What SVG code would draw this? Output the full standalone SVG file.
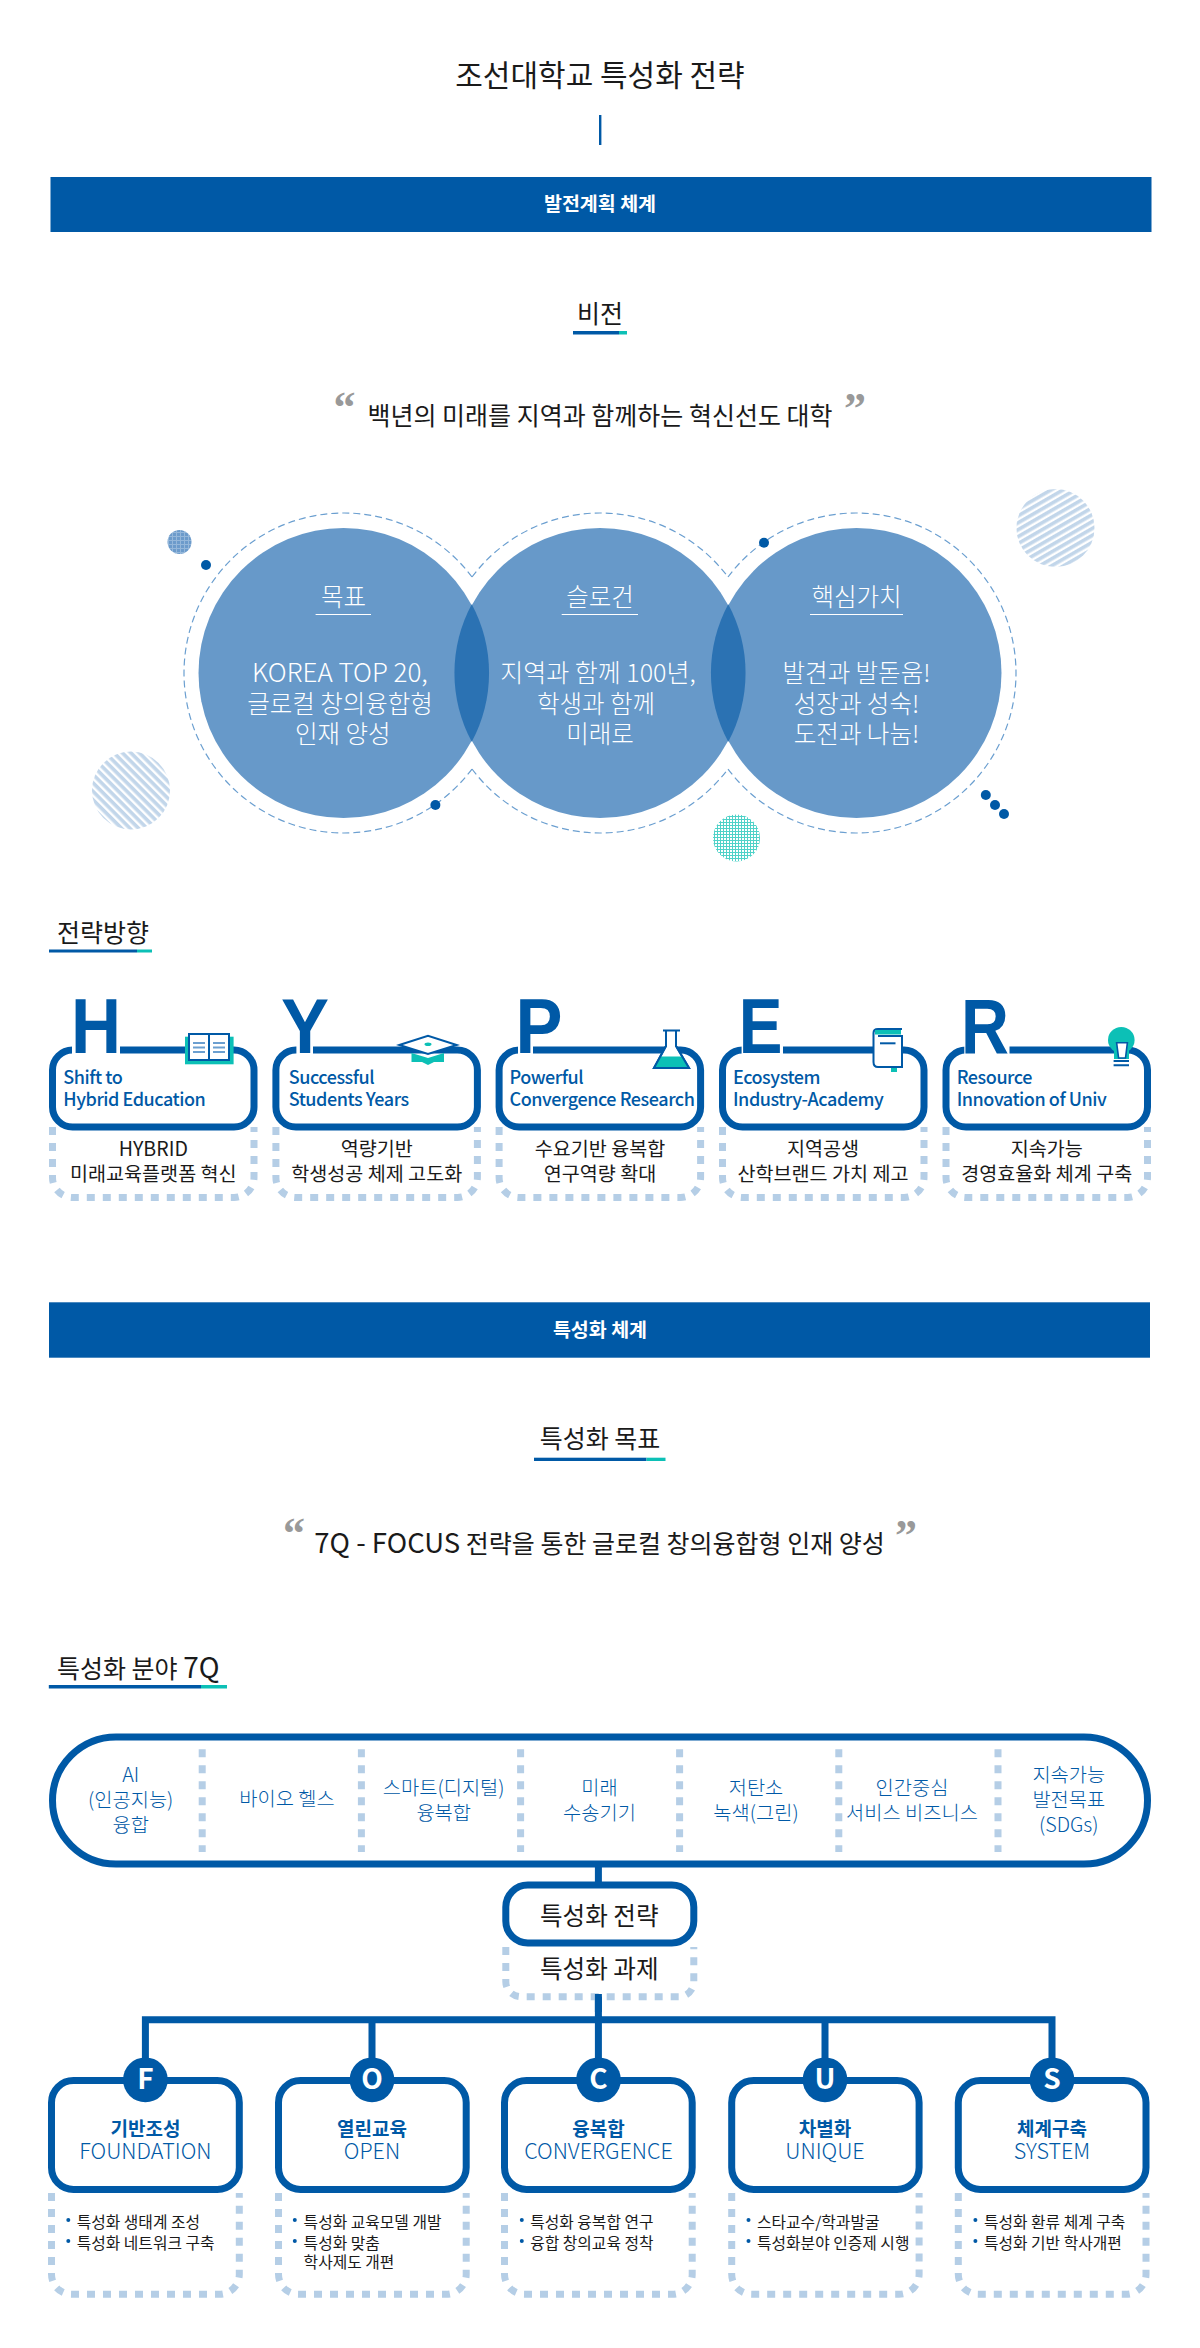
<svg xmlns="http://www.w3.org/2000/svg" width="1200" height="2348" viewBox="0 0 1200 2348">
<style>
text{font-family:"Noto Sans CJK KR","Noto Sans",sans-serif;fill:#1a1a1a}
.c{text-anchor:middle}
.band{fill:#0059a6}
.bandt{font-size:19.5px;font-weight:700;fill:#fff;text-anchor:middle}
.h{font-size:25px}
.quote{font-family:"Liberation Serif",serif;font-weight:700;font-size:44px;fill:#999;text-anchor:middle}
.ub{fill:#0059a6}.ut{fill:#0cc0b6}
.big{fill:#6799c9}.lens{fill:#2b72b3}
.dash{fill:none;stroke:#6b9fd0;stroke-width:1.2;stroke-dasharray:7 4}
.dot{fill:#0059a6}
.ct{fill:#fff;font-size:24.5px;text-anchor:middle;font-weight:300}
.cl{stroke:#fff;stroke-width:1}
.solid{fill:#fff;stroke:#0059a6;stroke-width:7}
.dots{fill:none;stroke:#b5cee6;stroke-width:7;stroke-dasharray:8 8}
.let{font-family:"Liberation Sans",sans-serif;font-weight:700;font-size:78px;fill:#0059a6;text-anchor:middle}
.en{font-size:18px;letter-spacing:-.45px;fill:#0059a6;font-weight:500}
.sub{font-size:19.6px;text-anchor:middle}
.ico{fill:#fff;stroke:#0059a6;stroke-width:2}
.teal{fill:#0cc0b6}
.pg{stroke:#6b9fd0;stroke-width:2}
.f7{font-size:19.8px;fill:#0059a6;text-anchor:middle;font-weight:300}
.mid{font-size:24.6px;text-anchor:middle}
.cap{font-size:28px;font-weight:700;fill:#fff;text-anchor:middle}
.kt{font-size:19px;font-weight:700;fill:#0059a6;text-anchor:middle}
.ke{font-size:21.5px;fill:#0059a6;text-anchor:middle;font-weight:300}
.li{font-size:15.8px}
.conn{stroke:#0059a6;stroke-width:7;fill:none}
</style>
<defs>
<pattern id="st1" width="6" height="6" patternUnits="userSpaceOnUse" patternTransform="rotate(45)"><rect width="6" height="6" fill="#fff"/><rect width="6" height="3.6" fill="#c2d6ea"/></pattern>
<pattern id="st2" width="6" height="6" patternUnits="userSpaceOnUse" patternTransform="rotate(-30)"><rect width="6" height="6" fill="#fff"/><rect width="6" height="3.6" fill="#c2d6ea"/></pattern>
<pattern id="gr1" width="4" height="4" patternUnits="userSpaceOnUse"><rect width="4" height="4" fill="#6c9bcb"/><rect width="1" height="4" fill="#94b7da"/><rect width="4" height="1" fill="#94b7da"/></pattern>
<pattern id="gr2" width="3" height="3" patternUnits="userSpaceOnUse"><rect width="3" height="3" fill="#fff"/><rect width="1" height="3" fill="#4fd2c8"/><rect width="3" height="1" fill="#4fd2c8"/></pattern>
</defs>
<rect width="1200" height="2348" fill="#fff"/>

<g id="title">
<text class="c" x="600" y="86" font-size="30">조선대학교 특성화 전략</text>
<rect x="599" y="115" width="2.4" height="30" fill="#0059a6"/>
</g>
<g id="band-1"><rect class="band" x="50.5" y="177" width="1101" height="55"/><text class="bandt" x="600" y="211">발전계획 체계</text></g>

<g id="vision">
<text class="h c" x="600" y="323">비전</text>
<rect class="ub" x="573" y="331" width="46" height="3.5"/><rect class="ut" x="619" y="331" width="8" height="3.5"/>
<text class="quote" x="344.5" y="422">“</text><text class="quote" x="855" y="423">”</text>
<text class="c" x="600" y="425" font-size="25">백년의 미래를 지역과 함께하는 혁신선도 대학</text>
</g>

<g id="venn-decor">
<circle cx="179.5" cy="542" r="12" fill="url(#gr1)"/>
<circle cx="131" cy="790.5" r="39" fill="url(#st1)"/>
<circle cx="1055.5" cy="528" r="39" fill="url(#st2)"/>
<circle cx="736.5" cy="838" r="23.5" fill="url(#gr2)"/>
<path class="dash" d="M472,577A160,160 0 1 0 472,769"/>
<path class="dash" d="M472,577A160,160 0 0 1 728,577"/>
<path class="dash" d="M472,769A160,160 0 0 0 728,769"/>
<path class="dash" d="M728,577A160,160 0 1 1 728,769"/>
<circle class="dot" cx="206" cy="565" r="5"/><circle class="dot" cx="435.4" cy="805" r="5"/><circle class="dot" cx="764" cy="542.7" r="5"/>
<circle class="dot" cx="985.8" cy="795" r="5"/><circle class="dot" cx="995" cy="805" r="5"/><circle class="dot" cx="1004" cy="814" r="5"/>
</g>
<g id="circle-goal">
<circle class="big" cx="343.5" cy="673" r="145"/>
<text class="ct" x="343.5" y="606">목표</text><line class="cl" x1="315.6" y1="614.5" x2="371" y2="614.5"/>
<text class="ct" x="340" y="681.5" font-size="26" style="font-size:26px">KOREA TOP 20,</text><text class="ct" x="340" y="712.5">글로컬 창의융합형</text><text class="ct" x="342.7" y="743">인재 양성</text>
</g>
<g id="circle-slogan">
<circle class="big" cx="600" cy="673" r="145"/>
<text class="ct" x="600" y="606">슬로건</text><line class="cl" x1="561.7" y1="614.5" x2="638" y2="614.5"/>
<text class="ct" x="598" y="681.5" style="font-size:25px">지역과 함께 100년,</text><text class="ct" x="596" y="712.5">학생과 함께</text><text class="ct" x="600" y="743">미래로</text>
</g>
<g id="circle-value">
<circle class="big" cx="856.5" cy="673" r="145"/>
<text class="ct" x="856.5" y="606">핵심가치</text><line class="cl" x1="810" y1="614.5" x2="903" y2="614.5"/>
<text class="ct" x="856.5" y="681.5">발견과 발돋움!</text><text class="ct" x="856.5" y="712.5">성장과 성숙!</text><text class="ct" x="856.5" y="743">도전과 나눔!</text>
</g>
<path class="lens" d="M471.75,604.3A145,145 0 0 1 471.75,741.7A145,145 0 0 1 471.75,604.3Z"/>
<path class="lens" d="M728.25,604.3A145,145 0 0 1 728.25,741.7A145,145 0 0 1 728.25,604.3Z"/>

<g id="strategy-head">
<text class="h" x="57" y="942">전략방향</text>
<rect class="ub" x="49" y="949.5" width="88" height="3"/><rect class="ut" x="137" y="949.5" width="15" height="3"/>
</g>

<g id="card-H">
<path class="dots" d="M52.5,1127V1177.5A20,20 0 0 0 72.5,1197.5H234A20,20 0 0 0 254,1177.5V1127"/>
<rect class="solid" x="52.5" y="1050" width="201.5" height="77" rx="20"/>
<rect x="72" y="1045" width="48" height="10" fill="#fff"/>
<text class="let" x="96" y="1053" textLength="50" lengthAdjust="spacingAndGlyphs">H</text>
<rect class="teal" x="185" y="1036.7" width="48.6" height="27.6"/>
<rect class="ico" x="189" y="1034" width="40" height="26"/><line x1="209" y1="1034" x2="209" y2="1060" stroke="#0059a6" stroke-width="2"/>
<path class="pg" d="M193,1043H205M193,1047.5H205M193,1052H205M213,1043H225M213,1047.5H225M213,1052H225"/>
<text class="en" x="63.3" y="1084">Shift to</text><text class="en" x="63.3" y="1106">Hybrid Education</text>
<text class="sub" x="153.3" y="1155.7">HYBRID</text><text class="sub" x="153.3" y="1180.7">미래교육플랫폼 혁신</text>
</g>
<g id="card-Y">
<path class="dots" d="M275.9,1127V1177.5A20,20 0 0 0 295.9,1197.5H457.4A20,20 0 0 0 477.4,1177.5V1127"/>
<rect class="solid" x="275.9" y="1050" width="201.5" height="77" rx="20"/>
<rect x="296.4" y="1045" width="16.6" height="10" fill="#fff"/>
<text class="let" x="305" y="1053" textLength="48" lengthAdjust="spacingAndGlyphs">Y</text>
<path class="teal" d="M411.5,1053L428,1058L444,1053V1062H434L428,1065L422,1062H411.5Z"/>
<path class="ico" d="M399.3,1045L428,1035.7L456.7,1045L428,1054Z"/>
<ellipse class="teal" cx="428" cy="1044.3" rx="3.5" ry="1.8"/>
<text class="en" x="288.7" y="1084">Successful</text><text class="en" x="288.7" y="1106">Students Years</text>
<text class="sub" x="376.7" y="1155.7">역량기반</text><text class="sub" x="376.7" y="1180.7">학생성공 체제 고도화</text>
</g>
<g id="card-P">
<path class="dots" d="M499.1,1127V1177.5A20,20 0 0 0 519.1,1197.5H680.6A20,20 0 0 0 700.6,1177.5V1127"/>
<rect class="solid" x="499.1" y="1050" width="201.5" height="77" rx="20"/>
<rect x="518" y="1045" width="15" height="10" fill="#fff"/>
<text class="let" x="539" y="1053" textLength="47" lengthAdjust="spacingAndGlyphs">P</text>
<path class="ico" d="M666,1031V1046L654,1068H689L676,1046V1031"/>
<path class="teal" d="M660.5,1056.5H682.5L689,1068H654Z"/><path fill="none" stroke="#0059a6" stroke-width="2" d="M663,1030.5H680M666,1031V1046L654,1068H689L676,1046V1031"/>
<text class="en" x="509.5" y="1084">Powerful</text><text class="en" x="509.5" y="1106">Convergence Research</text>
<text class="sub" x="600" y="1155.7">수요기반 융복합</text><text class="sub" x="600" y="1180.7">연구역량 확대</text>
</g>
<g id="card-E">
<path class="dots" d="M722.5,1127V1177.5A20,20 0 0 0 742.5,1197.5H904A20,20 0 0 0 924,1177.5V1127"/>
<rect class="solid" x="722.5" y="1050" width="201.5" height="77" rx="20"/>
<rect x="741.6" y="1045" width="41.4" height="10" fill="#fff"/>
<text class="let" x="760.5" y="1053" textLength="43.7" lengthAdjust="spacingAndGlyphs">E</text>
<rect class="teal" x="891" y="1060" width="6" height="12"/>
<path class="ico" d="M902,1029H878Q873.5,1029 873.5,1033V1062Q873.5,1067 878,1067H902V1036H878"/>
<rect class="teal" x="875" y="1030" width="26" height="4.5"/>
<line x1="880" y1="1043.3" x2="895.5" y2="1043.3" stroke="#0059a6" stroke-width="2"/>
<text class="en" x="733" y="1084">Ecosystem</text><text class="en" x="733" y="1106">Industry-Academy</text>
<text class="sub" x="823" y="1155.7">지역공생</text><text class="sub" x="823" y="1180.7">산학브랜드 가치 제고</text>
</g>
<g id="card-R">
<path class="dots" d="M946,1127V1177.5A20,20 0 0 0 966,1197.5H1127.5A20,20 0 0 0 1147.5,1177.5V1127"/>
<rect class="solid" x="946" y="1050" width="201.5" height="77" rx="20"/>
<rect x="964.3" y="1045" width="45.2" height="10" fill="#fff"/>
<text class="let" x="985" y="1053" textLength="48" lengthAdjust="spacingAndGlyphs">R</text>
<ellipse class="teal" cx="1121.3" cy="1040" rx="13.3" ry="13"/>
<rect x="1114" y="1050" width="15" height="9" fill="#0cc0b6"/>
<path fill="#fff" stroke="#0059a6" stroke-width="1.6" d="M1116.6,1042.7H1127.4L1125.5,1058H1118.6Z"/>
<path stroke="#0059a6" stroke-width="2" d="M1113.6,1061H1129M1113.6,1065.3H1129"/>
<text class="en" x="956.7" y="1084">Resource</text><text class="en" x="956.7" y="1106">Innovation of Univ</text>
<text class="sub" x="1046.7" y="1155.7">지속가능</text><text class="sub" x="1046.7" y="1180.7">경영효율화 체계 구축</text>
</g>

<g id="band-2"><rect class="band" x="49" y="1302.3" width="1101" height="55.4"/><text class="bandt" x="600" y="1337">특성화 체계</text></g>

<g id="goal">
<text class="h c" x="600" y="1448">특성화 목표</text>
<rect class="ub" x="534" y="1457.7" width="112.5" height="3.3"/><rect class="ut" x="646.5" y="1457.7" width="19" height="3.3"/>
<text class="quote" x="294" y="1548">“</text><text class="quote" x="906" y="1549.5">”</text>
<text class="c" x="599.6" y="1552.7" font-size="25"><tspan font-size="27.5">7Q - FOCUS</tspan> 전략을 통한 글로컬 창의융합형 인재 양성</text>
</g>
<g id="field-head">
<text class="h" x="57" y="1678">특성화 분야 <tspan font-size="28">7Q</tspan></text>
<rect class="ub" x="48.8" y="1685" width="152.2" height="3.5"/><rect class="ut" x="201" y="1685" width="26" height="3.5"/>
</g>

<g id="connectors">
<path class="conn" d="M598.4,1866V1884M598.4,1996.7V2060M145.4,2060V2019.7H1052V2060M372,2019.7V2060M825,2019.7V2060"/>
</g>

<g id="fields">
<rect class="solid" x="52.5" y="1737" width="1095" height="127" rx="63.5"/>
<path class="dots" d="M202.2,1749.3V1852M361.4,1749.3V1852M520.6,1749.3V1852M679.6,1749.3V1852M838.8,1749.3V1852M998,1749.3V1852"/>
<text class="f7" x="130.7" y="1782.3">AI</text><text class="f7" x="130.7" y="1807">(인공지능)</text><text class="f7" x="130.7" y="1831.7">융합</text>
<text class="f7" x="287" y="1806">바이오 헬스</text>
<text class="f7" x="443.7" y="1795">스마트(디지털)</text><text class="f7" x="443.7" y="1820">융복합</text>
<text class="f7" x="599.5" y="1795">미래</text><text class="f7" x="599.5" y="1820">수송기기</text>
<text class="f7" x="756" y="1795">저탄소</text><text class="f7" x="756" y="1820">녹색(그린)</text>
<text class="f7" x="912" y="1795">인간중심</text><text class="f7" x="912" y="1820">서비스 비즈니스</text>
<text class="f7" x="1068.8" y="1782.3">지속가능</text><text class="f7" x="1068.8" y="1807">발전목표</text><text class="f7" x="1068.8" y="1831.7">(SDGs)</text>
</g>
<g id="strategy">
<path class="dots" d="M505.8,1947V1981.7A15,15 0 0 0 520.8,1996.7H678.8A15,15 0 0 0 693.8,1981.7V1947"/>
<rect class="solid" x="505.8" y="1885" width="188" height="58" rx="22"/>
<text class="mid" x="599.3" y="1925">특성화 전략</text>
<text class="mid" x="599.3" y="1978">특성화 과제</text>
</g>
<path class="conn" d="M598.4,1994V2012"/>

<g id="node-F">
<path class="dots" d="M51.5,2193V2274.3A20,20 0 0 0 71.5,2294.3H219.3A20,20 0 0 0 239.3,2274.3V2193"/>
<rect class="solid" x="51.5" y="2080.5" width="187.8" height="109" rx="22"/>
<circle class="dot" cx="145.4" cy="2079.8" r="22.4"/><text class="cap" x="145.4" y="2088.5">F</text>
<text class="kt" x="145.4" y="2136">기반조성</text><text class="ke" x="145.4" y="2159">FOUNDATION</text>
<circle class="dot" cx="68.3" cy="2220" r="2"/><circle class="dot" cx="68.3" cy="2241" r="2"/>
<text class="li" x="76.7" y="2228">특성화 생태계 조성</text><text class="li" x="76.7" y="2249">특성화 네트워크 구축</text>
</g>
<g id="node-O">
<path class="dots" d="M278.5,2193V2274.3A20,20 0 0 0 298.5,2294.3H446.2A20,20 0 0 0 466.2,2274.3V2193"/>
<rect class="solid" x="278.5" y="2080.5" width="187.7" height="109" rx="22"/>
<circle class="dot" cx="372" cy="2079.8" r="22.4"/><text class="cap" x="372" y="2088.5">O</text>
<text class="kt" x="372" y="2136">열린교육</text><text class="ke" x="372" y="2159">OPEN</text>
<circle class="dot" cx="294.8" cy="2220" r="2"/><circle class="dot" cx="294.8" cy="2241" r="2"/>
<text class="li" x="303.6" y="2228">특성화 교육모델 개발</text><text class="li" x="303.6" y="2249">특성화 맞춤</text><text class="li" x="303.6" y="2267.7">학사제도 개편</text>
</g>
<g id="node-C">
<path class="dots" d="M504.5,2193V2274.3A20,20 0 0 0 524.5,2294.3H672.2A20,20 0 0 0 692.2,2274.3V2193"/>
<rect class="solid" x="504.5" y="2080.5" width="187.7" height="109" rx="22"/>
<circle class="dot" cx="598.5" cy="2079.8" r="22.4"/><text class="cap" x="598.5" y="2088.5">C</text>
<text class="kt" x="598.5" y="2136">융복합</text><text class="ke" x="598.5" y="2159">CONVERGENCE</text>
<circle class="dot" cx="521.8" cy="2220" r="2"/><circle class="dot" cx="521.8" cy="2241" r="2"/>
<text class="li" x="530.2" y="2228">특성화 융복합 연구</text><text class="li" x="530.2" y="2249">융합 창의교육 정착</text>
</g>
<g id="node-U">
<path class="dots" d="M731.7,2193V2274.3A20,20 0 0 0 751.7,2294.3H899.1A20,20 0 0 0 919.1,2274.3V2193"/>
<rect class="solid" x="731.7" y="2080.5" width="187.4" height="109" rx="22"/>
<circle class="dot" cx="825" cy="2079.8" r="22.4"/><text class="cap" x="825" y="2088.5">U</text>
<text class="kt" x="825" y="2136">차별화</text><text class="ke" x="825" y="2159">UNIQUE</text>
<circle class="dot" cx="748.5" cy="2220" r="2"/><circle class="dot" cx="748.5" cy="2241" r="2"/>
<text class="li" x="757" y="2228">스타교수/학과발굴</text><text class="li" x="757" y="2249">특성화분야 인증제 시행</text>
</g>
<g id="node-S">
<path class="dots" d="M958.3,2193V2274.3A20,20 0 0 0 978.3,2294.3H1126A20,20 0 0 0 1146,2274.3V2193"/>
<rect class="solid" x="958.3" y="2080.5" width="187.7" height="109" rx="22"/>
<circle class="dot" cx="1052" cy="2079.8" r="22.4"/><text class="cap" x="1052" y="2088.5">S</text>
<text class="kt" x="1052" y="2136">체계구축</text><text class="ke" x="1052" y="2159">SYSTEM</text>
<circle class="dot" cx="975.4" cy="2220" r="2"/><circle class="dot" cx="975.4" cy="2241" r="2"/>
<text class="li" x="983.9" y="2228">특성화 환류 체계 구축</text><text class="li" x="983.9" y="2249">특성화 기반 학사개편</text>
</g>
</svg>
